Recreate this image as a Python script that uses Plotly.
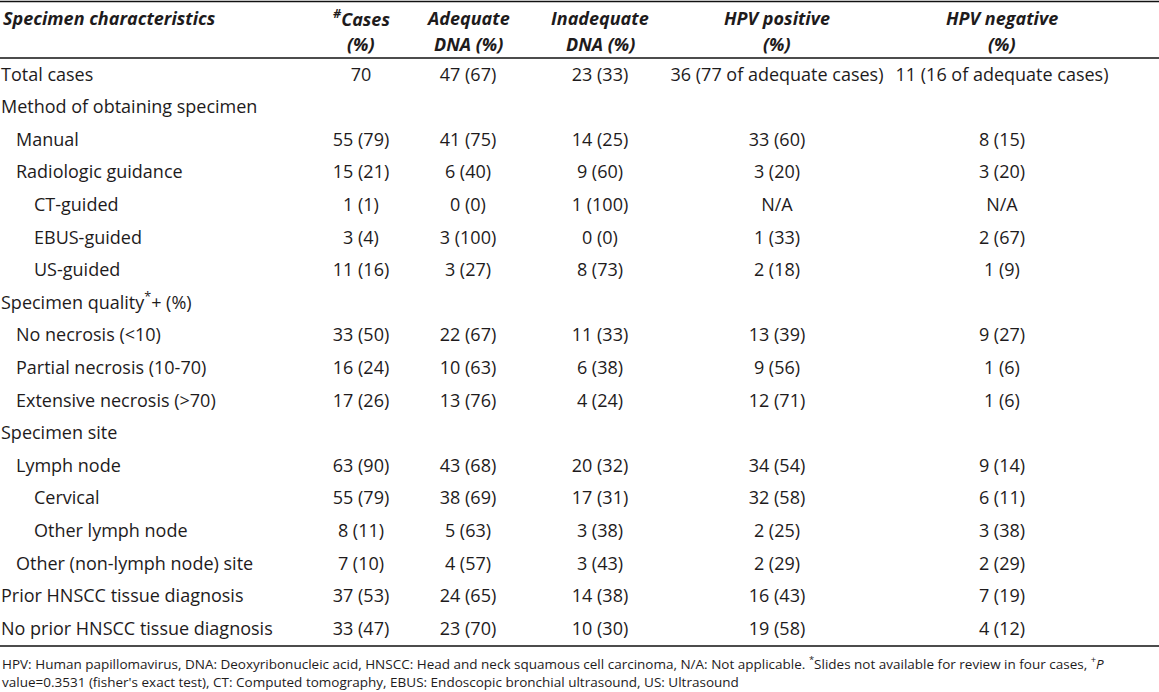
import plotly.graph_objects as go

# ---- data ----
header_top = ["Specimen characteristics", "<sup>#</sup>Cases", "Adequate", "Inadequate", "HPV positive", "HPV negative"]
header_bot = ["", "(%)", "DNA (%)", "DNA (%)", "(%)", "(%)"]

labels = [
    "Total cases", "Method of obtaining specimen", "Manual", "Radiologic guidance",
    "CT-guided", "EBUS-guided", "US-guided", "Specimen quality<sup>*</sup>+ (%)",
    "No necrosis (<10)", "Partial necrosis (10-70)", "Extensive necrosis (>70)",
    "Specimen site", "Lymph node", "Cervical", "Other lymph node",
    "Other (non-lymph node) site", "Prior HNSCC tissue diagnosis", "No prior HNSCC tissue diagnosis",
]
levels = [0, 0, 1, 1, 2, 2, 2, 0, 1, 1, 1, 0, 1, 2, 2, 1, 0, 0]
cases = ["70", "", "55 (79)", "15 (21)", "1 (1)", "3 (4)", "11 (16)", "", "33 (50)", "16 (24)",
         "17 (26)", "", "63 (90)", "55 (79)", "8 (11)", "7 (10)", "37 (53)", "33 (47)"]
adequate = ["47 (67)", "", "41 (75)", "6 (40)", "0 (0)", "3 (100)", "3 (27)", "", "22 (67)", "10 (63)",
            "13 (76)", "", "43 (68)", "38 (69)", "5 (63)", "4 (57)", "24 (65)", "23 (70)"]
inadequate = ["23 (33)", "", "14 (25)", "9 (60)", "1 (100)", "0 (0)", "8 (73)", "", "11 (33)", "6 (38)",
              "4 (24)", "", "20 (32)", "17 (31)", "3 (38)", "3 (43)", "14 (38)", "10 (30)"]
hpv_pos = ["36 (77 of adequate cases)", "", "33 (60)", "3 (20)", "N/A", "1 (33)", "2 (18)", "", "13 (39)",
           "9 (56)", "12 (71)", "", "34 (54)", "32 (58)", "2 (25)", "2 (29)", "16 (43)", "19 (58)"]
hpv_neg = ["11 (16 of adequate cases)", "", "8 (15)", "3 (20)", "N/A", "2 (67)", "1 (9)", "", "9 (27)",
           "1 (6)", "1 (6)", "", "9 (14)", "6 (11)", "3 (38)", "2 (29)", "7 (19)", "4 (12)"]

footer = [
    "HPV: Human papillomavirus, DNA: Deoxyribonucleic acid, HNSCC: Head and neck squamous cell carcinoma, "
    "N/A: Not applicable. <sup>*</sup>Slides not available for review in four cases, <sup>+</sup><i>P</i>",
    "value=0.3531 (fisher's exact test), CT: Computed tomography, EBUS: Endoscopic bronchial ultrasound, US: Ultrasound",
]

# ---- layout parameters ----
W, H = 1159, 692
FONT = "'Open Sans', Lato, sans-serif"
TXT = "#1e1b1c"
FS = 18
col_x = [0, 361, 468, 600, 777, 1002]
row0, pitch = 76, 32.6
indent = [1, 16, 34]
rows_y = [row0 + i * pitch for i in range(len(labels))]

fig = go.Figure()

# label column
fig.add_trace(go.Scatter(
    x=[indent[l] for l in levels], y=rows_y, mode="text", text=labels,
    textposition="middle right", textfont=dict(family=FONT, size=FS, color=TXT),
    hoverinfo="skip", showlegend=False, cliponaxis=False))

for cx, col in zip(col_x[1:], [cases, adequate, inadequate, hpv_pos, hpv_neg]):
    keep = [i for i, v in enumerate(col) if v]
    fig.add_trace(go.Scatter(
        x=[cx] * len(keep), y=[rows_y[i] for i in keep], mode="text", text=[col[i] for i in keep],
        textposition="middle center", textfont=dict(family=FONT, size=FS, color=TXT),
        hoverinfo="skip", showlegend=False, cliponaxis=False))

# header
ann = []
for i, (t1, t2) in enumerate(zip(header_top, header_bot)):
    xanchor = "left" if i == 0 else "center"
    ann.append(dict(x=col_x[i] + (1 if i == 0 else 0), y=18, xref="x", yref="y", text=f"<b><i>{t1}</i></b>",
                    showarrow=False, xanchor=xanchor, yanchor="middle",
                    font=dict(family=FONT, size=FS, color=TXT)))
    if t2:
        ann.append(dict(x=col_x[i], y=44, xref="x", yref="y", text=f"<b><i>{t2}</i></b>",
                        showarrow=False, xanchor=xanchor, yanchor="middle",
                        font=dict(family=FONT, size=FS, color=TXT)))

for j, line in enumerate(footer):
    ann.append(dict(x=0, y=663 + j * 19, xref="x", yref="y", text=line, showarrow=False,
                    xanchor="left", yanchor="middle", font=dict(family=FONT, size=13.5, color=TXT)))

shapes = [
    dict(type="line", xref="x", yref="y", x0=0, x1=W, y0=y, y1=y, line=dict(color="#111", width=w))
    for y, w in [(1.5, 1.6), (58, 1.3), (646, 1.3)]
]

fig.update_layout(
    width=W, height=H, margin=dict(l=0, r=0, t=0, b=0),
    paper_bgcolor="white", plot_bgcolor="white",
    xaxis=dict(range=[0, W], visible=False, fixedrange=True),
    yaxis=dict(range=[H, 0], visible=False, fixedrange=True),
    annotations=ann, shapes=shapes,
)

fig.write_html("out.html", config={"displayModeBar": False},
               post_script="document.body.style.margin='0';document.body.style.overflow='hidden';")
